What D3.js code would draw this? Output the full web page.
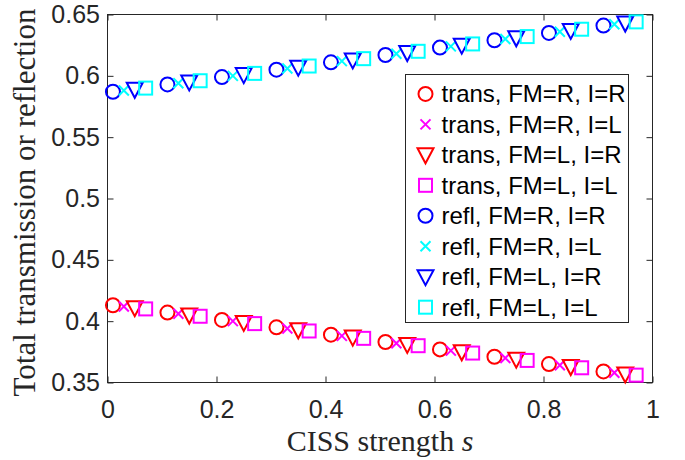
<!DOCTYPE html>
<html>
<head>
<meta charset="utf-8">
<script src="https://cdn.jsdelivr.net/npm/d3@7"></script>
<style>
  html, body { margin: 0; padding: 0; background: #fff; }
  svg { display: block; }
</style>
</head>
<body>
<svg id="chart" width="685" height="460"></svg>
<script>
// CISS strength sample points for each series (slightly offset so markers don't overlap)
const sCircle = [0.01, 0.11, 0.21, 0.31, 0.41, 0.51, 0.61, 0.71, 0.81, 0.91];
const sCross  = [0.03, 0.13, 0.23, 0.33, 0.43, 0.53, 0.63, 0.73, 0.83, 0.93];
const sTri    = [0.05, 0.15, 0.25, 0.35, 0.45, 0.55, 0.65, 0.75, 0.85, 0.95];
const sSquare = [0.07, 0.17, 0.27, 0.37, 0.47, 0.57, 0.67, 0.77, 0.87, 0.97];

// Total transmission
const transRR = [0.413, 0.407, 0.401, 0.395, 0.389, 0.383, 0.377, 0.371, 0.365, 0.359];
const transRL = [0.412, 0.406, 0.400, 0.394, 0.388, 0.382, 0.376, 0.370, 0.364, 0.358];
const transLR = [0.411, 0.405, 0.399, 0.393, 0.387, 0.381, 0.375, 0.369, 0.363, 0.357];
const transLL = [0.410, 0.404, 0.398, 0.392, 0.386, 0.380, 0.374, 0.368, 0.362, 0.356];

// Total reflection
const reflRR = [0.587, 0.593, 0.599, 0.605, 0.611, 0.617, 0.623, 0.629, 0.635, 0.641];
const reflRL = [0.588, 0.594, 0.600, 0.606, 0.612, 0.618, 0.624, 0.630, 0.636, 0.642];
const reflLR = [0.589, 0.595, 0.601, 0.607, 0.613, 0.619, 0.625, 0.631, 0.637, 0.643];
const reflLL = [0.590, 0.596, 0.602, 0.608, 0.614, 0.620, 0.626, 0.632, 0.638, 0.644];

const xTicks = [0, 0.2, 0.4, 0.6, 0.8, 1];
const yTicks = [0.35, 0.4, 0.45, 0.5, 0.55, 0.6, 0.65];

const seriesLabels = [
  "trans, FM=R, I=R", "trans, FM=R, I=L", "trans, FM=L, I=R", "trans, FM=L, I=L",
  "refl, FM=R, I=R", "refl, FM=R, I=L", "refl, FM=L, I=R", "refl, FM=L, I=L"
];
const seriesS = [sCircle, sCross, sTri, sSquare, sCircle, sCross, sTri, sSquare];
const seriesV = [transRR, transRL, transLR, transLL, reflRR, reflRL, reflLR, reflLL];
const seriesMarker = ["circle", "cross", "tri", "square", "circle", "cross", "tri", "square"];
const seriesColor = ["#ff0000", "#ff00ff", "#ff0000", "#ff00ff", "#0000ff", "#00ffff", "#0000ff", "#00ffff"];

const svg = d3.select("#chart");
const axisColor = "#262626";
const plotLeft = 107.5, plotRight = 652.5, plotTop = 14.5, plotBottom = 382.5;

const x = d3.scaleLinear().domain([0, 1]).range([plotLeft, plotRight]);
const y = d3.scaleLinear().domain([0.35, 0.65]).range([plotBottom, plotTop]);

const tickLen = 6;
const tickFont = "Liberation Sans, Arial, sans-serif";

// Box
svg.append("rect")
  .attr("x", plotLeft).attr("y", plotTop)
  .attr("width", plotRight - plotLeft).attr("height", plotBottom - plotTop)
  .attr("fill", "#fff").attr("stroke", axisColor).attr("stroke-width", 1);

// Bottom axis (ticks point inward) + mirrored top ticks
const xAxis = d3.axisBottom(x).tickValues(xTicks).tickSize(-tickLen).tickPadding(20)
  .tickFormat(d3.format("~g"));
const gx = svg.append("g").attr("transform", `translate(0,${plotBottom})`).call(xAxis);
gx.select(".domain").remove();
gx.selectAll("line").attr("stroke", axisColor);
gx.selectAll("text").attr("fill", "#262626").style("font-family", tickFont)
  .style("font-size", "25px").attr("dy", "0.71em").attr("y", 18);

const gxTop = svg.append("g").attr("transform", `translate(0,${plotTop})`)
  .call(d3.axisTop(x).tickValues(xTicks).tickSize(-tickLen).tickFormat(""));
gxTop.select(".domain").remove();
gxTop.selectAll("line").attr("stroke", axisColor);

// Left axis + mirrored right ticks
const yAxis = d3.axisLeft(y).tickValues(yTicks).tickSize(-tickLen).tickPadding(7)
  .tickFormat(d3.format("~g"));
const gy = svg.append("g").attr("transform", `translate(${plotLeft},0)`).call(yAxis);
gy.select(".domain").remove();
gy.selectAll("line").attr("stroke", axisColor);
gy.selectAll("text").attr("fill", "#262626").style("font-family", tickFont)
  .style("font-size", "25px").attr("x", -7.5);

const gyRight = svg.append("g").attr("transform", `translate(${plotRight},0)`)
  .call(d3.axisRight(y).tickValues(yTicks).tickSize(-tickLen).tickFormat(""));
gyRight.select(".domain").remove();
gyRight.selectAll("line").attr("stroke", axisColor);

// Marker shapes
function drawMarker(g, type, cx, cy, color) {
  const sw = 2;
  if (type === "circle") {
    g.append("circle").attr("cx", cx).attr("cy", cy).attr("r", 7)
      .attr("fill", "none").attr("stroke", color).attr("stroke-width", sw);
  } else if (type === "cross") {
    const h = 5;
    g.append("path")
      .attr("d", `M${cx - h},${cy - h}L${cx + h},${cy + h}M${cx - h},${cy + h}L${cx + h},${cy - h}`)
      .attr("fill", "none").attr("stroke", color).attr("stroke-width", sw);
  } else if (type === "tri") {
    const w = 8;
    g.append("path")
      .attr("d", `M${cx - w},${cy - 6.5}L${cx + w},${cy - 6.5}L${cx},${cy + 8.5}Z`)
      .attr("fill", "none").attr("stroke", color).attr("stroke-width", sw)
      .attr("stroke-linejoin", "miter");
  } else if (type === "square") {
    const h = 6.5;
    g.append("rect").attr("x", cx - h).attr("y", cy - h)
      .attr("width", 2 * h).attr("height", 2 * h)
      .attr("fill", "none").attr("stroke", color).attr("stroke-width", sw);
  }
}

// Data markers
const plotG = svg.append("g");
seriesV.forEach((vals, i) => {
  const g = plotG.append("g");
  vals.forEach((v, j) => {
    drawMarker(g, seriesMarker[i], x(seriesS[i][j]), y(v), seriesColor[i]);
  });
});

// Legend
const legX = 405.5, legY = 74.5, legW = 223, legH = 248;
const legend = svg.append("g");
legend.append("rect").attr("x", legX).attr("y", legY).attr("width", legW).attr("height", legH)
  .attr("fill", "#fff").attr("stroke", axisColor).attr("stroke-width", 1);
seriesLabels.forEach((lab, i) => {
  const base = 102.4 + i * 30.47;
  drawMarker(legend, seriesMarker[i], 425.5, base - 8.5, seriesColor[i]);
  legend.append("text").attr("x", 441.5).attr("y", base)
    .style("font-family", tickFont).style("font-size", "24px").attr("fill", "#000")
    .text(lab);
});

// Axis titles
const serif = "Liberation Serif, 'Times New Roman', serif";
const xl = svg.append("text").attr("x", (plotLeft + plotRight) / 2).attr("y", 450.5)
  .attr("text-anchor", "middle").style("font-family", serif).style("font-size", "30px")
  .attr("fill", "#262626");
xl.append("tspan").text("CISS strength ");
xl.append("tspan").style("font-style", "italic").text("s");

svg.append("text")
  .attr("transform", `translate(35,${(plotTop + plotBottom) / 2 + 4}) rotate(-90)`)
  .attr("text-anchor", "middle").style("font-family", serif).style("font-size", "31px")
  .attr("fill", "#262626")
  .text("Total transmission or reflection");
</script>
</body>
</html>
